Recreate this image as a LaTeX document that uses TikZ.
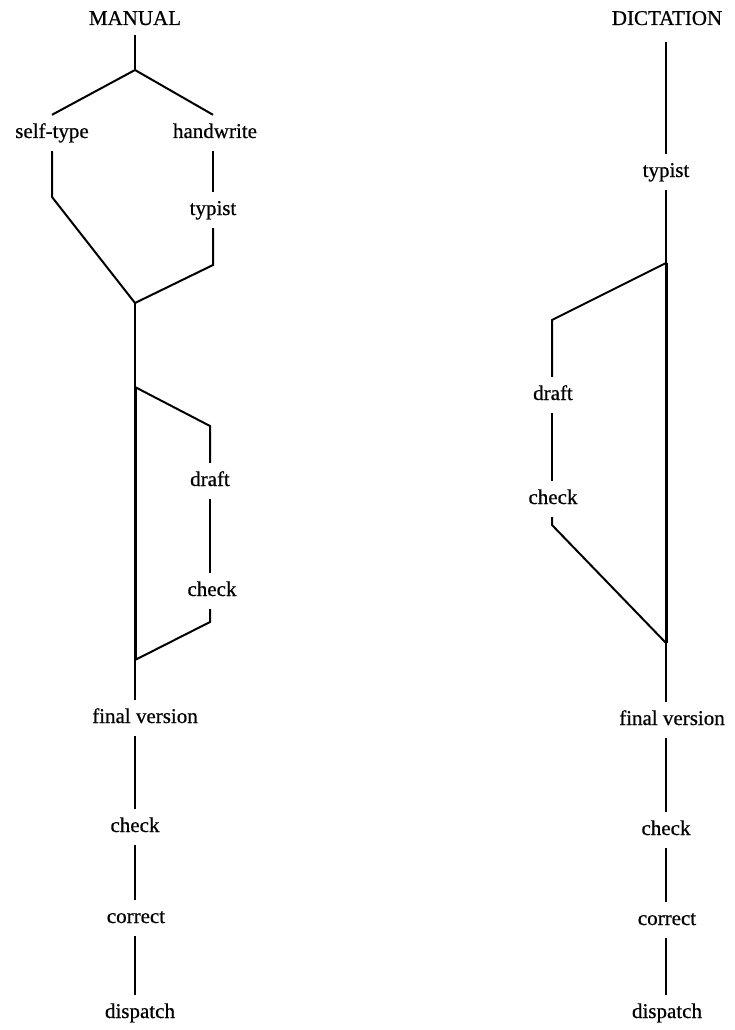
\documentclass[tikz,border=0pt]{standalone}
\usepackage{fontspec}
\setmainfont{Liberation Serif}
\newfontfamily\lblfont[FakeBold=0.6]{Liberation Serif}
\begin{document}
\begin{tikzpicture}[x=1pt,y=-1pt,
  lbl/.style={font=\lblfont\fontsize{21}{24}\selectfont, inner sep=0pt, minimum height=36pt, text height=14pt, text depth=4pt},
  ttl/.style={font=\lblfont\fontsize{21}{24}\selectfont, inner sep=0pt, minimum height=34pt, text height=14pt, text depth=0pt},
  ln/.style={line width=2pt, line cap=butt, line join=miter},
  thk/.style={line width=3pt}]
\useasboundingbox (0,0) rectangle (734,1030);

% ---------------- MANUAL ----------------
\node[ttl] (manual) at (135,18) {MANUAL};
\coordinate (j1) at (135,70);
\node[lbl] (selftype) at (52,133) {self-type};
\node[lbl] (handwrite) at (215,133) {handwrite};
\node[lbl] (typistA) at (213,210) {typist};
\coordinate (sl) at (52,197);
\coordinate (tr) at (213,265);
\coordinate (j2) at (135,303);
\coordinate (lt) at (135,387);
\coordinate (d1) at (210,426);
\node[lbl] (draftA) at (210,481) {draft};
\node[lbl] (checkA) at (212,591) {check};
\coordinate (d2) at (210,622);
\coordinate (lb) at (135,660);
\node[lbl] (finalA) at (145,718) {final version};
\node[lbl] (checkB) at (135,827) {check};
\node[lbl] (correctA) at (136,918) {correct};
\node[lbl] (dispatchA) at (140,1013) {dispatch};

\draw[ln] (manual.south) -- (j1);
\draw[ln] (selftype.north) -- (j1) -- (handwrite.north -| typistA);
\draw[ln] (selftype.south) -- (sl) -- (j2);
\draw[ln] (handwrite.south -| typistA) -- (typistA.north);
\draw[ln] (typistA.south) -- (tr) -- (j2);
\draw[ln] (j2) -- (lt);
\draw[ln,thk] (lt) -- (lb);
\draw[ln] (lt) -- (d1) -- (draftA.north);
\draw[ln] (draftA.south) -- (checkA.north -| draftA);
\draw[ln] (checkA.south -| draftA) -- (d2) -- (lb);
\draw[ln] (lb) -- (finalA.north -| lb);
\draw[ln] (finalA.south -| lb) -- (checkB.north -| lb);
\draw[ln] (checkB.south -| lb) -- (correctA.north -| lb);
\draw[ln] (correctA.south -| lb) -- (dispatchA.north -| lb);

% ---------------- DICTATION ----------------
\node[ttl] (dictation) at (667,18) {DICTATION};
\coordinate (dtop) at (666,42);
\node[lbl] (typistB) at (666,172) {typist};
\coordinate (j3) at (666,263);
\coordinate (dl) at (552,320);
\node[lbl] (draftB) at (553,395) {draft};
\node[lbl] (checkC) at (553,499) {check};
\coordinate (dl2) at (552,525);
\coordinate (j4) at (666,643);
\node[lbl] (finalB) at (672,720) {final version};
\node[lbl] (checkD) at (666,830) {check};
\node[lbl] (correctB) at (667,920) {correct};
\node[lbl] (dispatchB) at (667,1013) {dispatch};

\draw[ln] (dtop) -- (typistB.north);
\draw[ln] (typistB.south) -- (j3);
\draw[ln,thk] (j3) -- (j4);
\draw[ln] (j3) -- (dl) -- (draftB.north -| dl);
\draw[ln] (draftB.south -| dl) -- (checkC.north -| dl);
\draw[ln] (checkC.south -| dl) -- (dl2) -- (j4);
\draw[ln] (j4) -- (finalB.north -| j4);
\draw[ln] (finalB.south -| j4) -- (checkD.north -| j4);
\draw[ln] (checkD.south -| j4) -- (correctB.north -| j4);
\draw[ln] (correctB.south -| j4) -- (dispatchB.north -| j4);
\end{tikzpicture}
\end{document}
